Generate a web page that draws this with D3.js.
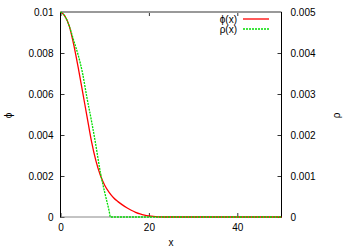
<!DOCTYPE html>
<html><head><meta charset="utf-8">
<script src="https://cdn.jsdelivr.net/npm/d3@7"></script>
<style>
body{margin:0;background:#fff;}
text{font-family:"Liberation Sans",Arial,sans-serif;font-size:10px;fill:#000;}
</style></head>
<body><svg id="c" width="357" height="250"></svg>
<script>
// data
const phiX   = [0,1,2,3,4,5,6,7,8,9,10,11,12,13,14,15,16,17,18,19,20,22,25,30,40,50];
const phiY   = [0.0100,0.0098,0.0093,0.0084,0.0073,0.0061,0.0049,0.0037,0.00275,0.00205,0.00155,0.00120,0.00094,0.00075,0.00059,0.00045,0.00033,0.00023,0.00015,0.00009,0.00005,0.00001,0,0,0,0];
const rhoX   = [0,1,2,3,4,5,6,7,8,9,10,11,11.3,20,30,40,50];
const rhoY   = [0.0050,0.0049,0.00465,0.0043,0.00395,0.0035,0.0029,0.00235,0.00175,0.0011,0.0006,0.00015,0,0,0,0,0];
const xTicks  = [0,20,40];
const yTicks  = [0,0.002,0.004,0.006,0.008,0.01];
const y2Ticks = [0,0.001,0.002,0.003,0.004,0.005];
const legendLabels = ["\u03d5(x)","\u03c1(x)"];

const svg = d3.select("#c");
const L=60.5,R=281.5,T=12,B=217;
const x  = d3.scaleLinear([0,50],[L,R]);
const yL = d3.scaleLinear([0,0.01],[B,T]);
const yR = d3.scaleLinear([0,0.005],[B,T]);

const fmt = d => d===0?"0":String(+d.toFixed(4));

// axes
const gx = svg.append("g").attr("transform",`translate(0,${B})`)
  .call(d3.axisBottom(x).tickValues(xTicks).tickSize(-4).tickSizeOuter(0).tickPadding(7).tickFormat(d=>d));
const gxt = svg.append("g").attr("transform",`translate(0,${T})`)
  .call(d3.axisTop(x).tickValues(xTicks).tickSize(-4).tickSizeOuter(0).tickFormat(""));
const gy = svg.append("g").attr("transform",`translate(${L},0)`)
  .call(d3.axisLeft(yL).tickValues(yTicks).tickSize(-4).tickSizeOuter(0).tickPadding(7).tickFormat(fmt));
const gy2 = svg.append("g").attr("transform",`translate(${R},0)`)
  .call(d3.axisRight(yR).tickValues(y2Ticks).tickSize(-4).tickSizeOuter(0).tickPadding(9).tickFormat(fmt));
[gx,gxt,gy,gy2].forEach(g=>{
  g.select(".domain").remove();
  g.selectAll("line").attr("stroke","#000").attr("stroke-width",0.8);
  g.selectAll("text").attr("font-family","Liberation Sans, Arial, sans-serif").attr("font-size",10).attr("fill","#000");
});

// border
svg.append("line").attr("x1",L).attr("x2",R).attr("y1",T).attr("y2",T).attr("stroke","#999").attr("stroke-width",2);
svg.append("line").attr("x1",L).attr("x2",R).attr("y1",B).attr("y2",B).attr("stroke","#888").attr("stroke-width",1);
svg.append("line").attr("x1",L).attr("x2",L).attr("y1",T).attr("y2",B+0.5).attr("stroke","#000").attr("stroke-width",1);
svg.append("line").attr("x1",R).attr("x2",R).attr("y1",T).attr("y2",B+0.5).attr("stroke","#000").attr("stroke-width",1);

// lines
const phiData = phiX.map((d,i)=>[d,phiY[i]]);
const rhoData = rhoX.map((d,i)=>[d,rhoY[i]]);
svg.append("path").datum(phiData)
  .attr("d",d3.line().x(d=>x(d[0])).y(d=>yL(d[1])).curve(d3.curveMonotoneX))
  .attr("fill","none").attr("stroke","#ff0000").attr("stroke-width",1.3);
svg.append("path").datum(rhoData)
  .attr("d",d3.line().x(d=>x(d[0])).y(d=>yR(d[1])).curve(d3.curveMonotoneX))
  .attr("fill","none").attr("stroke","#00dd00").attr("stroke-width",1.3).attr("stroke-dasharray","2,1");

// axis labels
svg.append("text").attr("x",(L+R)/2).attr("y",245.5).attr("text-anchor","middle").text("x");
svg.append("text").attr("transform","translate(8,115.5) rotate(-90)").attr("text-anchor","middle").attr("dominant-baseline","central").text("\u03d5");
svg.append("text").attr("transform","translate(336,115.5) rotate(-90)").attr("text-anchor","middle").attr("dominant-baseline","central").text("\u03c1");

// legend
const leg = [{c:"#ff0000",d:null},{c:"#00dd00",d:"2,1"}];
legendLabels.forEach((t,i)=>{
  const yy = 19 + i*10;
  svg.append("text").attr("x",237).attr("y",yy).attr("text-anchor","end").attr("dominant-baseline","central").text(t);
  svg.append("line").attr("x1",243).attr("x2",269).attr("y1",yy).attr("y2",yy)
    .attr("stroke",leg[i].c).attr("stroke-width",1.3).attr("stroke-dasharray",leg[i].d);
});
</script></body></html>
